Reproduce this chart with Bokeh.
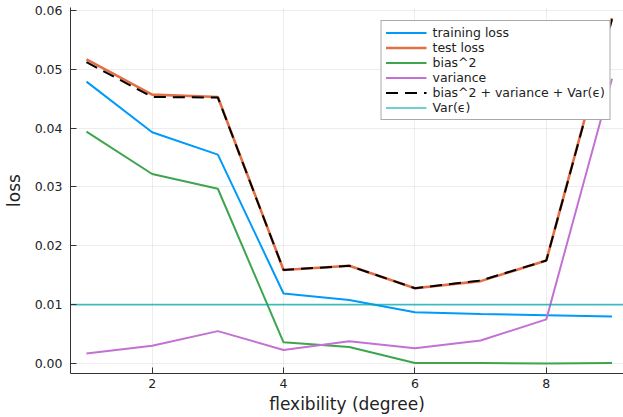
from bokeh.plotting import figure
from bokeh.models import Range1d, FixedTicker, Legend, LegendItem, PrintfTickFormatter
from bokeh.embed import file_html
from bokeh.resources import INLINE

# ---- data ----
degree = [1, 2, 3, 4, 5, 6, 7, 8, 9]
training_loss = [0.0479, 0.0393, 0.0355, 0.0119, 0.0108, 0.0087, 0.0084, 0.0082, 0.0080]
test_loss = [0.0517, 0.0457, 0.0453, 0.0159, 0.0166, 0.0128, 0.0140, 0.0175, 0.0587]
bias2 = [0.0394, 0.0322, 0.0297, 0.0036, 0.0028, 0.0001, 0.0001, 0.0000, 0.0001]
variance = [0.0017, 0.0030, 0.0055, 0.0023, 0.0038, 0.0026, 0.0039, 0.0075, 0.0484]
bias_var_noise = [0.0512, 0.0453, 0.0452, 0.0159, 0.0166, 0.0128, 0.0141, 0.0175, 0.0585]
var_eps = 0.01

x_ticks = [2, 4, 6, 8]
y_ticks = [0.00, 0.01, 0.02, 0.03, 0.04, 0.05, 0.06]
x_lo, x_hi = 0.757, 9.175
y_lo, y_hi = -0.0017, 0.0605

FONT = "DejaVu Sans"
C_BLUE = "#009AFA"
C_ORANGE = "#E36F47"
C_GREEN = "#3EA44E"
C_PURPLE = "#C371D2"
C_CYAN = "#00A9AD"

p = figure(width=623, height=417, output_backend="svg", toolbar_location=None,
           x_range=Range1d(x_lo, x_hi), y_range=Range1d(y_lo, y_hi),
           min_border_left=70, min_border_right=0, min_border_top=7, min_border_bottom=44)
p.outline_line_color = None
p.background_fill_color = "white"
p.border_fill_color = "white"

r1 = p.line(degree, training_loss, line_color=C_BLUE, line_width=2)
r2 = p.line(degree, test_loss, line_color=C_ORANGE, line_width=2.6)
r3 = p.line(degree, bias2, line_color=C_GREEN, line_width=2)
r4 = p.line(degree, variance, line_color=C_PURPLE, line_width=2)
r5 = p.line(degree, bias_var_noise, line_color="black", line_width=2, line_dash="12 7")
r6 = p.line([x_lo, x_hi], [var_eps, var_eps], line_color=C_CYAN, line_width=1.6, line_alpha=0.75)

for ax in (p.xaxis[0], p.yaxis[0]):
    ax.major_tick_in = 6
    ax.major_tick_out = 0
    ax.minor_tick_in = 0
    ax.minor_tick_out = 0
    ax.axis_line_color = "#333333"
    ax.axis_line_width = 1
    ax.major_tick_line_color = "#333333"
    ax.major_label_text_font = FONT
    ax.major_label_text_font_size = "12.5px"
    ax.major_label_text_color = "#222222"
    ax.axis_label_text_font = FONT
    ax.axis_label_text_font_size = "17px"
    ax.axis_label_text_font_style = "normal"
    ax.axis_label_text_color = "#222222"

p.xaxis.ticker = FixedTicker(ticks=x_ticks)
p.yaxis.ticker = FixedTicker(ticks=y_ticks)
p.yaxis.formatter = PrintfTickFormatter(format="%.2f")
p.xaxis.axis_label = "flexibility (degree)"
p.yaxis.axis_label = "loss"
p.xaxis.major_label_standoff = 5
p.yaxis.major_label_standoff = 8
p.xaxis.axis_label_standoff = 3
p.yaxis.axis_label_standoff = 8

p.xgrid.ticker = FixedTicker(ticks=x_ticks)
p.ygrid.ticker = FixedTicker(ticks=y_ticks)
for g in (p.xgrid[0], p.ygrid[0]):
    g.grid_line_color = "black"
    g.grid_line_alpha = 0.07
    g.grid_line_width = 1

legend = Legend(items=[
    LegendItem(label="training loss", renderers=[r1]),
    LegendItem(label="test loss", renderers=[r2]),
    LegendItem(label="bias^2", renderers=[r3]),
    LegendItem(label="variance", renderers=[r4]),
    LegendItem(label="bias^2 + variance + Var(ϵ)", renderers=[r5]),
    LegendItem(label="Var(ϵ)", renderers=[r6]),
], location="top_right")
legend.margin = 13
legend.padding = 4
legend.spacing = 0
legend.glyph_width = 41
legend.glyph_height = 13
legend.label_height = 13
legend.label_standoff = 6
legend.label_text_font = FONT
legend.label_text_font_size = "12.5px"
legend.label_text_color = "#222222"
legend.border_line_color = "#555555"
legend.border_line_width = 1.2
legend.background_fill_color = "white"
legend.background_fill_alpha = 1
p.add_layout(legend, "center")

open("out.html", "w").write(file_html(p, INLINE))
